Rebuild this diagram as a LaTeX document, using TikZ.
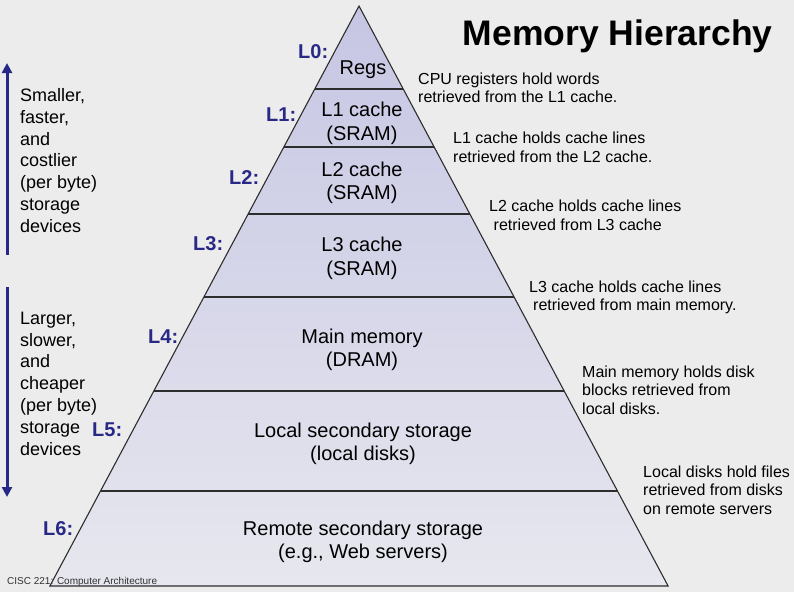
\documentclass[tikz,border=0pt]{standalone}
\usepackage{fontspec}
\setmainfont{Liberation Sans}
\usetikzlibrary{arrows.meta}
\definecolor{bg}{RGB}{236,236,236}
\definecolor{lblue}{RGB}{40,40,135}
\definecolor{ptop}{RGB}{198,198,228}
\definecolor{pbot}{RGB}{231,231,239}
\definecolor{edgec}{RGB}{45,45,45}
\definecolor{footc}{RGB}{50,50,50}
\begin{document}
\begin{tikzpicture}[x=1pt,y=-1pt,
  lvl/.style={font=\fontsize{20}{23.3}\selectfont, align=center, inner sep=0pt, anchor=north},
  lbl/.style={font=\bfseries\fontsize{20}{24}\selectfont, text=lblue, inner sep=0pt, anchor=base west},
  note/.style={font=\fontsize{16}{18.7}\selectfont, align=left, inner sep=0pt, anchor=north west},
  side/.style={font=\fontsize{18}{21.8}\selectfont, align=left, inner sep=0pt, anchor=north west},
  sep/.style={draw=edgec, line width=1.1pt},
  arr/.style={draw=lblue, line width=3pt, -{Triangle[length=10pt,width=10pt]}}]
\fill[bg] (0,0) rectangle (794,592);
\useasboundingbox (0,0) rectangle (794,592);
% pyramid
\coordinate (apex) at (359,6);
\coordinate (bl) at (49.9,586);
\coordinate (br) at (668.1,586);
\shade[top color=ptop, bottom color=pbot] (apex) -- (bl) -- (br) -- cycle;
\draw[sep] (314.8,89) -- (403.2,89);
\draw[sep] (283.8,147) -- (434.2,147);
\draw[sep] (248.1,214) -- (469.9,214);
\draw[sep] (203.9,297) -- (514.1,297);
\draw[sep] (153.8,391) -- (564.2,391);
\draw[sep] (100.5,491) -- (617.5,491);
\draw[sep, line join=miter] (apex) -- (bl) -- (br) -- cycle;
% level texts
\node[lvl] (regs) at (363,60.6) {Regs};
\node[lvl] (l1c) at (362,102.3) {L1 cache\\(SRAM)};
\node[lvl] (l2c) at (362,161.6) {L2 cache\\(SRAM)};
\node[lvl] (l3c) at (362,237.3) {L3 cache\\(SRAM)};
\node[lvl] (mm) at (362,328.9) {Main memory\\(DRAM)};
\node[lvl] (lss) at (363,422.3) {Local secondary storage\\(local disks)};
\node[lvl] (rss) at (363,520.6) {Remote secondary storage\\(e.g., Web servers)};
% level labels
\node[lbl] (L0) at (298,58.3) {L0:};
\node[lbl] (L1) at (266,121.7) {L1:};
\node[lbl] (L2) at (229,184.3) {L2:};
\node[lbl] (L3) at (193,250.5) {L3:};
\node[lbl] (L4) at (148,343) {L4:};
\node[lbl] (L5) at (92,436.7) {L5:};
\node[lbl] (L6) at (43,535) {L6:};
% notes
\node[note] (n1) at (418,72.5) {CPU registers hold words\\retrieved from the L1 cache.};
\node[note] (n2) at (453,131.8) {L1 cache holds cache lines\\retrieved from the L2 cache.};
\node[note] (n3) at (489,200.2) {L2 cache holds cache lines\\\hspace*{4.5pt}retrieved from L3 cache};
\node[note] (n4) at (529,280.2) {L3 cache holds cache lines\\\hspace*{4pt}retrieved from main memory.};
\node[note] (n5) at (582,365.2) {Main memory holds disk\\blocks retrieved from\\local disks.};
\node[note] (n6) at (643,465.2) {Local disks hold files\\retrieved from disks\\on remote servers};
% side texts and arrows
\node[side] (s1) at (20,88.3) {Smaller,\\faster,\\and\\costlier\\(per byte)\\storage\\devices};
\node[side] (s2) at (20,311.7) {Larger,\\slower,\\and\\cheaper\\(per byte)\\storage\\devices};
\coordinate (ua) at (7,255);
\coordinate (ub) at (7,63);
\coordinate (da) at (7,287);
\coordinate (db) at (7,497);
\draw[arr] (ua) -- (ub);
\draw[arr] (da) -- (db);
% title and footer
\node[font=\bfseries\fontsize{35.5}{40}\selectfont, inner sep=0pt, anchor=base west] (title) at (462.7,45) {Memory Hierarchy};
\node[font=\fontsize{10}{12}\selectfont, text=footc, inner sep=0pt, anchor=base west] (foot) at (7,584) {CISC 221: Computer Architecture};
\end{tikzpicture}
\end{document}
